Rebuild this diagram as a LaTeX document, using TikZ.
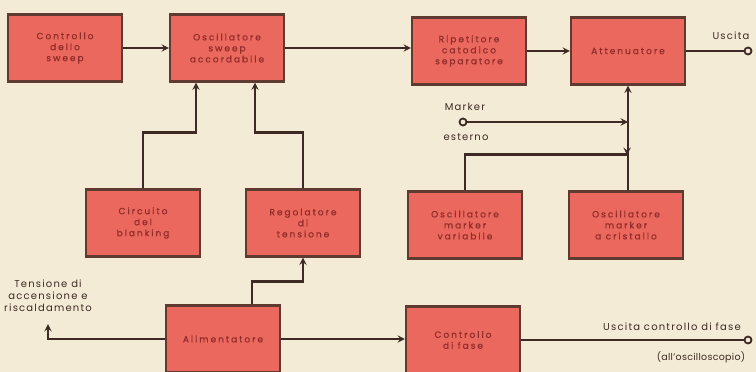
\documentclass[tikz,border=0pt]{standalone}
\usepackage{fontspec}
\setmainfont{Poppins}
\usetikzlibrary{arrows}

\definecolor{paper}{RGB}{243,235,214}
\definecolor{boxred}{RGB}{234,104,94}
\definecolor{boxedge}{RGB}{95,58,48}
\definecolor{boxtext}{RGB}{145,45,42}
\definecolor{wire}{RGB}{62,42,36}

\begin{document}
\begin{tikzpicture}[
		x = 1pt, y = -1pt, % pixel grid, y pointing down
		> = stealth, % arrow head style
		wire/.style = {draw = wire, line width = 2.2pt},
		block/.style = {
			draw = boxedge,
			line width = 2.2pt,
			fill = boxred,
			minimum width = 114pt,
			minimum height = 67pt,
			align = center,
			text = boxtext,
			font = \fontsize{9}{11}\selectfont\addfontfeature{LetterSpace=22,FakeBold=0.6}
			},
		term/.style = {circle, draw = wire, fill = paper, line width = 1.8pt,
			minimum size = 7pt, inner sep = 0pt},
		label/.style = {text = wire, align = center,
			font = \fontsize{10}{12}\selectfont\addfontfeature{LetterSpace=12}}
		]
		
		% background
		\fill[paper] (0,0) rectangle (756,372);
		\useasboundingbox (0,0) rectangle (756,372);
		
		% top row
		\node[block] (sweepctl) at (65,48) {Controllo\\dello\\sweep};
		\node[block] (sweeposc) at (227,48) {Oscillatore\\sweep\\accordabile};
		\node[block] (cathode) at (469,51) {Ripetitore\\catodico\\separatore};
		\node[block] (atten) at (628,51) {Attenuatore};
		
		% middle row
		\node[block] (blanking) at (143,223) {Circuito\\del\\blanking};
		\node[block] (regul) at (303,223) {Regolatore\\di\\tensione};
		\node[block] (mvar) at (465,225) {Oscillatore\\marker\\variabile};
		\node[block] (mxtal) at (626,225) {Oscillatore\\marker\\a cristallo};
		
		% bottom row
		\node[block] (power) at (223,339) {Alimentatore};
		\node[block] (phasectl) at (463,340) {Controllo\\di fase};
		
		% terminals
		\node[term] (out) at (748,51) {};
		\node[term] (mext) at (463,122) {};
		\node[term] (phout) at (748,340) {};
		\coordinate (heat) at (48,324);
		
		% labels
		\node[label] (outlbl) at (731,36) {Uscita};
		\node[label] at (465,107) {Marker};
		\node[label] at (466,137) {esterno};
		\node[label] at (48,296) {Tensione di\\accensione e\\riscaldamento};
		\node[label] at (672,327) {Uscita controllo di fase};
		\node[label, font = \fontsize{9.5}{12}\selectfont\addfontfeature{LetterSpace=3}]
			at (701,357) {(all'oscilloscopio)};
		
		% signal path
		\draw[wire, ->] (sweepctl) -- (sweepctl -| sweeposc.west);
		\draw[wire, ->] (sweeposc) -- (sweeposc -| cathode.west);
		\draw[wire, ->] (cathode) -- (cathode -| atten.west);
		\draw[wire] (atten) -- (out);
		
		% blanking and regulator into the sweep oscillator
		\draw[wire, ->] (blanking.north) -- ++(0,-56) -| ([xshift=-31pt]sweeposc.south);
		\draw[wire, ->] (regul.north) -- ++(0,-56) -| ([xshift=28pt]sweeposc.south);
		
		% markers into the attenuator
		\draw[wire, ->] (mxtal.north -| atten.south) -- (atten.south);
		\draw[wire, ->] (mvar.north) -- ++(0,-36) -| ([xshift=-1pt]atten.south |- 0,155);
		\draw[wire, ->] (mext) -- (mext -| atten.south);
		
		% power supply
		\draw[wire, ->] ([xshift=29pt]power.north) -- ++(0,-23) -| (regul.south);
		\draw[wire, ->] (power) -| (heat);
		\draw[wire, ->] (power) -- (power -| phasectl.west);
		\draw[wire] (phasectl) -- (phout);
		
		\end{tikzpicture}
\end{document}
